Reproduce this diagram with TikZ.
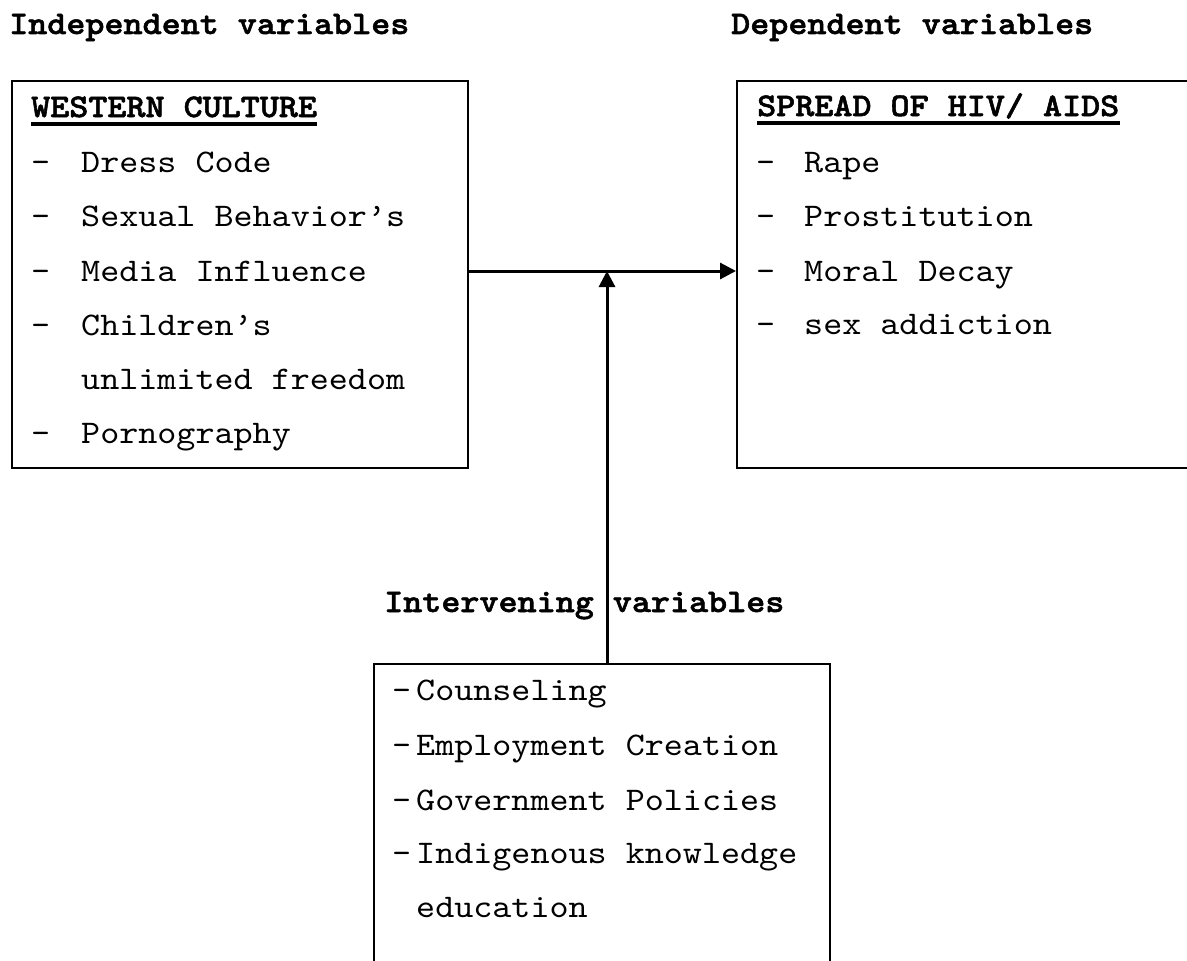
\documentclass[tikz,border=0pt]{standalone}
\usepackage{fontspec}
\setmainfont{lmmono10-regular.otf}[BoldFont=lmmonolt10-bold.otf, BoldFeatures={FakeBold=1.6}, FakeStretch=1.1]
\usetikzlibrary{arrows.meta}
\begin{document}
\begin{tikzpicture}[x=1pt,y=-1pt,
  txt/.style={inner sep=0pt,anchor=base west,font=\fontsize{33}{40}\selectfont},
  hd/.style={txt,font=\fontsize{33}{40}\selectfont\bfseries},
  boxnode/.style={draw,line width=1.8pt,anchor=north west,inner sep=0pt},
  ul/.style={line width=3.5pt},
  arr/.style={line width=3pt,-{Triangle[length=16pt,width=16pt]}}]
\useasboundingbox (0,0) rectangle (1187,961);
\fill[white] (0,0) rectangle (1187,961);
% headings
\node[hd] (ih) at (9,34) {Independent variables};
\node[hd] (dh) at (731,34) {Dependent variables};
% boxes
\node[boxnode,minimum width=456pt,minimum height=387pt] (wc) at (11,80) {};
\node[boxnode,minimum width=480pt,minimum height=387pt] (hiv) at (736,80) {};
\node[boxnode,minimum width=456pt,minimum height=320pt] (iv) at (373,663) {};
% left box
\node[hd] (wct) at (31,117) {WESTERN CULTURE};
\draw[ul] ([yshift=-7pt]wct.base west) -- ([yshift=-7pt]wct.base east);
\node[txt] (l1d) at (31,172) {-}; \node[txt] (l1) at (81,172) {Dress Code};
\node[txt] (l2d) at (31,226) {-}; \node[txt] (l2) at (81,226) {Sexual Behavior’s};
\node[txt] (l3d) at (31,281) {-}; \node[txt] (l3) at (81,281) {Media Influence};
\node[txt] (l4d) at (31,335) {-}; \node[txt] (l4) at (81,335) {Children’s};
\node[txt] (l5) at (81,389) {unlimited freedom};
\node[txt] (l6d) at (31,443) {-}; \node[txt] (l6) at (81,443) {Pornography};
% right box
\node[hd] (hivt) at (757,116) {SPREAD OF HIV/ AIDS};
\draw[ul] ([yshift=-7pt]hivt.base west) -- ([yshift=-7pt]hivt.base east);
\node[txt] (r1d) at (756,172) {-}; \node[txt] (r1) at (804,172) {Rape};
\node[txt] (r2d) at (756,226) {-}; \node[txt] (r2) at (804,226) {Prostitution};
\node[txt] (r3d) at (756,281) {-}; \node[txt] (r3) at (804,281) {Moral Decay};
\node[txt] (r4d) at (756,334) {-}; \node[txt] (r4) at (804,334) {sex addiction};
% bottom box
\node[hd] (ivh) at (384,612) {Intervening variables};
\node[txt] (b1d) at (392,700) {-}; \node[txt] (b1) at (416,700) {Counseling};
\node[txt] (b2d) at (392,755) {-}; \node[txt] (b2) at (416,755) {Employment Creation};
\node[txt] (b3d) at (392,810) {-}; \node[txt] (b3) at (416,810) {Government Policies};
\node[txt] (b4d) at (392,863) {-}; \node[txt] (b4) at (416,863) {Indigenous knowledge};
\node[txt] (b5) at (416,917) {education};
% connectors
\coordinate (jt) at (607,271);
\coordinate (jb) at (iv.north west -| jt);
\draw[arr] (wc.east |- jt) -- (hiv.west |- jt);
\draw[arr] (jb) -- (jt);
\end{tikzpicture}
\end{document}
